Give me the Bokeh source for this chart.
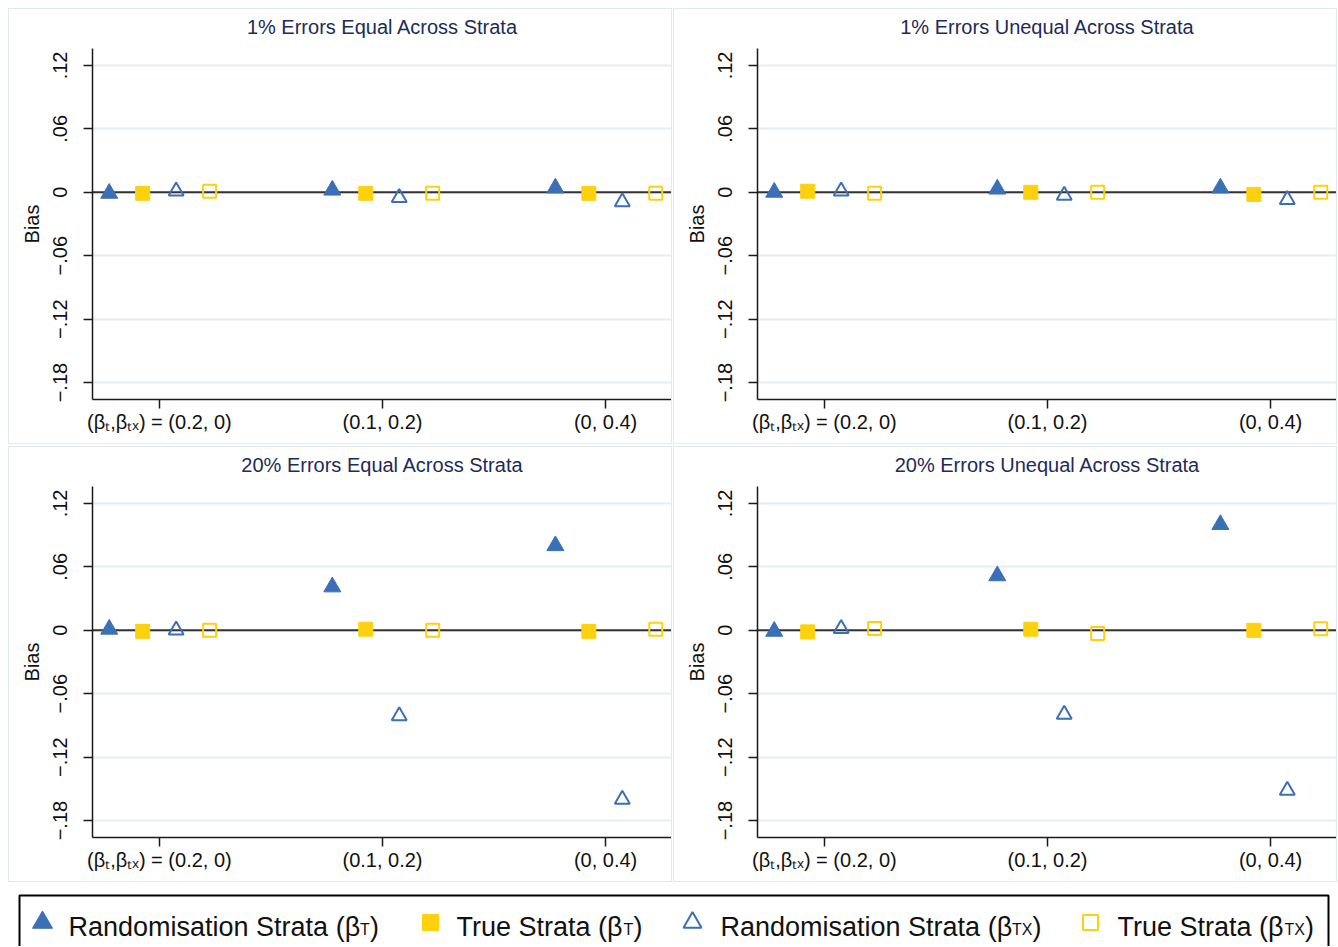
from bokeh.plotting import figure
from bokeh.models import Range1d, FixedTicker, Span, Label, LinearAxis
from bokeh.layouts import column, row
from bokeh.embed import file_html
from bokeh.resources import INLINE

# ---------------- data ----------------
panel_titles = [
    "1% Errors Equal Across Strata",
    "1% Errors Unequal Across Strata",
    "20% Errors Equal Across Strata",
    "20% Errors Unequal Across Strata",
]
group_positions = [1, 2, 3]
group_tick_labels = ["(\u03b2\u209c,\u03b2\u209c\u2093) = (0.2, 0)", "(0.1, 0.2)", "(0, 0.4)"]
y_ticks = [-0.18, -0.12, -0.06, 0.0, 0.06, 0.12]
y_tick_labels = ["\u2212.18", "\u2212.12", "\u2212.06", "0", ".06", ".12"]

series_names = ["Randomisation Strata (\u03b2", "True Strata (\u03b2", "Randomisation Strata (\u03b2", "True Strata (\u03b2"]
series_subscripts = ["T", "T", "TX", "TX"]

# bias values per panel (1% equal, 1% unequal, 20% equal, 20% unequal), per group
rand_T = [
    [-0.001, 0.002, 0.004],
    [0.000, 0.003, 0.004],
    [0.001, 0.041, 0.080],
    [-0.001, 0.0515, 0.100],
]
true_T = [
    [-0.001, -0.001, -0.001],
    [0.001, 0.000, -0.002],
    [-0.001, 0.001, -0.001],
    [-0.0015, 0.001, 0.000],
]
rand_TX = [
    [0.001, -0.005, -0.009],
    [0.001, -0.003, -0.007],
    [0.000, -0.081, -0.160],
    [0.0015, -0.0795, -0.1515],
]
true_TX = [
    [0.001, -0.001, -0.001],
    [-0.001, 0.000, 0.000],
    [0.000, 0.000, 0.001],
    [0.0017, -0.003, 0.0014],
]
all_series = [rand_T, true_T, rand_TX, true_TX]

# ---------------- style ----------------
BLUE = "#3b6fb6"
YELLOW = "#fdd10d"
TITLE_COLOR = "#1c2b59"
FONT = "Liberation Sans"
offsets = [-0.225, -0.075, 0.075, 0.225]
markers = [
    dict(marker="triangle", size=17, fill_color=BLUE, line_color=BLUE, line_width=1),
    dict(marker="square", size=14, fill_color=YELLOW, line_color=YELLOW, line_width=1),
    dict(marker="triangle", size=15, fill_color=None, line_color=BLUE, line_width=2),
    dict(marker="square", size=13, fill_color=None, line_color=YELLOW, line_width=2),
]
X_MIN, X_MAX = 0.7, 3.3
Y_MIN, Y_MAX = -0.196, 0.136


def make_panel(i):
    p = figure(width=664, height=436, output_backend="svg", toolbar_location=None,
               x_range=Range1d(X_MIN, X_MAX), y_range=Range1d(Y_MIN, Y_MAX),
               min_border_left=83, min_border_right=1, min_border_top=39, min_border_bottom=46,
               styles={"border": "1px solid #e2eaee"})
    p.outline_line_color = None
    p.background_fill_color = "white"
    p.border_fill_color = "white"

    xax = p.below[0]
    yax = p.left[0]
    for ax in (xax, yax):
        ax.axis_line_color = "#1a1a1a"
        ax.axis_line_width = 1.5
        ax.major_tick_line_color = "#1a1a1a"
        ax.major_tick_line_width = 1.5
        ax.major_tick_in = 0
        ax.major_tick_out = 9
        ax.minor_tick_line_color = None
        ax.major_label_text_font = FONT
        ax.major_label_text_font_size = "20px"
        ax.major_label_text_color = "#111111"

    xax.ticker = FixedTicker(ticks=group_positions)
    xax.major_label_overrides = {g: lab for g, lab in zip(group_positions, group_tick_labels)}
    xax.major_label_standoff = 2

    yax.ticker = FixedTicker(ticks=y_ticks)
    yax.major_label_overrides = {t: lab for t, lab in zip(y_ticks, y_tick_labels)}
    yax.major_label_orientation = "vertical"
    yax.major_label_standoff = 16
    yax.axis_label = "Bias"
    yax.axis_label_text_font = FONT
    yax.axis_label_text_font_size = "20px"
    yax.axis_label_text_font_style = "normal"
    yax.axis_label_text_color = "#111111"
    yax.axis_label_standoff = 8

    # panel heading, drawn as the label of a bare axis above the frame
    head = LinearAxis(ticker=FixedTicker(ticks=[]), axis_label=panel_titles[i],
                      axis_line_color=None, major_tick_line_color=None, minor_tick_line_color=None,
                      major_tick_out=0, major_label_standoff=0, major_label_text_font_size="0px",
                      axis_label_standoff=11, axis_label_text_font=FONT, axis_label_text_font_size="20px",
                      axis_label_text_font_style="normal", axis_label_text_color=TITLE_COLOR)
    p.add_layout(head, "above")

    p.xgrid.visible = False
    p.ygrid.grid_line_color = "#e6eef1"
    p.ygrid.grid_line_width = 2

    p.add_layout(Span(location=0, dimension="width", line_color="#333333", line_width=2, level="underlay"))

    for s, style in enumerate(markers):
        xs = [g + offsets[s] for g in group_positions]
        p.scatter(xs, all_series[s][i], **style)
    return p


panels = [make_panel(i) for i in range(4)]

# ---------------- legend ----------------
LW, LH = 1329, 62
leg = figure(width=LW, height=LH, output_backend="svg", toolbar_location=None,
             x_range=Range1d(0, LW), y_range=Range1d(0, LH),
             x_axis_type=None, y_axis_type=None, min_border=0)
leg.outline_line_color = None
leg.xgrid.visible = False
leg.ygrid.visible = False
leg.quad(left=11, right=1320, top=51, bottom=-10, fill_color=None, line_color="black", line_width=2)

leg_marker_x = [34, 422, 684, 1082]
leg_text_x = [60, 448, 712, 1109]
leg_markers = [
    dict(marker="triangle", size=20, fill_color=BLUE, line_color=BLUE, line_width=1),
    dict(marker="square", size=16, fill_color=YELLOW, line_color=YELLOW, line_width=1),
    dict(marker="triangle", size=18, fill_color=None, line_color=BLUE, line_width=2),
    dict(marker="square", size=15, fill_color=None, line_color=YELLOW, line_width=2),
]
main_w = {"Randomisation Strata (\u03b2": 291.6, "True Strata (\u03b2": 167.1}
sub_w = {"T": 9.8, "TX": 20.4}
for k in range(4):
    leg.scatter([leg_marker_x[k]], [24], **leg_markers[k])
    x0 = leg_text_x[k]
    leg.add_layout(Label(x=x0, y=20, text=series_names[k], text_font=FONT, text_font_size="27px",
                         text_color="#111111", text_baseline="alphabetic"))
    x1 = x0 + main_w[series_names[k]]
    leg.add_layout(Label(x=x1, y=17, text=series_subscripts[k], text_font=FONT, text_font_size="16px",
                         text_color="#111111", text_baseline="alphabetic"))
    x2 = x1 + sub_w[series_subscripts[k]]
    leg.add_layout(Label(x=x2, y=20, text=")", text_font=FONT, text_font_size="27px",
                         text_color="#111111", text_baseline="alphabetic"))

layout = column(row(panels[0], panels[1], spacing=1), row(panels[2], panels[3], spacing=1), leg,
                spacing=2, margin=(8, 0, 0, 8))

open("out.html", "w").write(file_html(layout, INLINE))
